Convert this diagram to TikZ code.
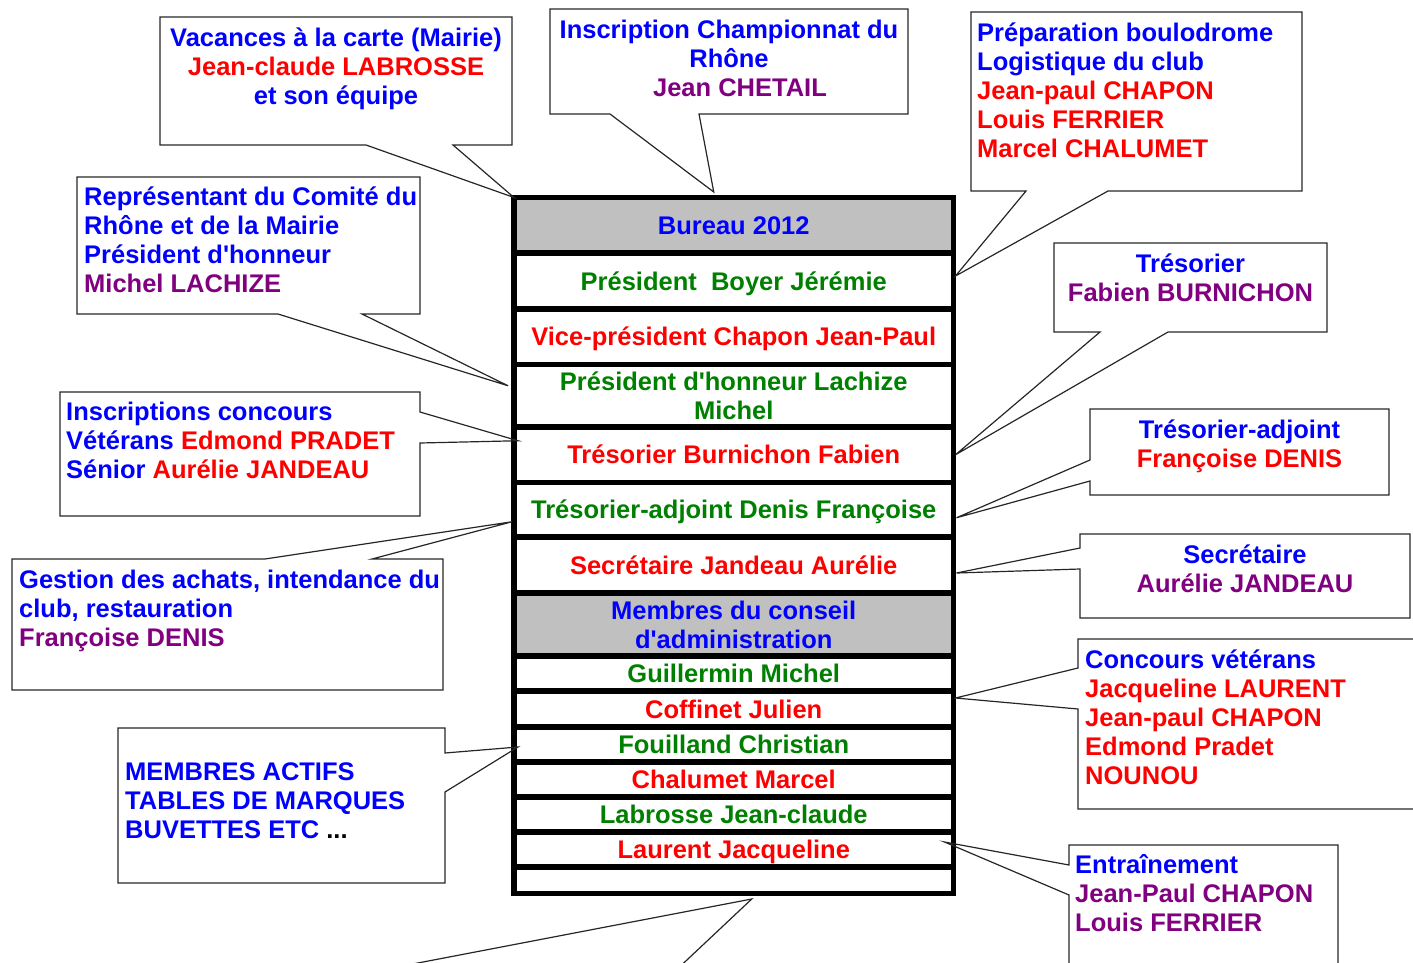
\documentclass[tikz,border=0pt]{standalone}
\usepackage{fontspec}
\setmainfont{Liberation Sans}
\usetikzlibrary{positioning}

\definecolor{cblue}{RGB}{0,0,255}
\definecolor{cred}{RGB}{255,0,0}
\definecolor{cgreen}{RGB}{0,128,0}
\definecolor{cpurple}{RGB}{128,0,128}
\definecolor{cgray}{RGB}{192,192,192}

\tikzset{
 cell/.style={draw=black, line width=5.5pt, fill=white, minimum width=439.5pt,
   inner sep=0pt, outer sep=0pt, align=center,
   font=\bfseries\fontsize{25.5}{29}\selectfont, text height=21pt, text depth=3pt},
 head/.style={cell, fill=cgray},
 twoline/.style={text height={}, text depth={}},
 box/.style={inner sep=0pt, outer sep=0pt, anchor=north west},
 bubble/.style={draw=black!85, line width=1.2pt},
 txt/.style={inner sep=0pt, font=\bfseries\fontsize{25.5}{29}\selectfont},
}

\begin{document}
\begin{tikzpicture}[x=1pt,y=-1pt]
 \useasboundingbox (0,0) rectangle (1413,963);
 \clip (0,0) rectangle (1413,963);

 % the table
 \node[head, text=cblue, minimum height=55.5pt] (r1) at (733.75,225.25) {Bureau 2012};
 \node[cell, text=cgreen, minimum height=56pt, below=0pt of r1] (r2) {Président~~Boyer Jérémie};
 \node[cell, text=cred, minimum height=55.5pt, below=0pt of r2] (r3) {Vice-président Chapon Jean-Paul};
 \node[cell, twoline, text=cgreen, minimum height=62.5pt, below=0pt of r3] (r4) {Président d\textquotesingle honneur Lachize\\Michel};
 \node[cell, text=cred, minimum height=55.5pt, below=0pt of r4] (r5) {Trésorier Burnichon Fabien};
 \node[cell, text=cgreen, minimum height=54.5pt, below=0pt of r5] (r6) {Trésorier-adjoint Denis Françoise};
 \node[cell, text=cred, minimum height=56pt, below=0pt of r6] (r7) {Secrétaire Jandeau Aurélie};
 \node[head, twoline, text=cblue, minimum height=63pt, below=0pt of r7] (r8) {Membres du conseil\\d\textquotesingle administration};
 \node[cell, text=cgreen, minimum height=35pt, below=0pt of r8] (r9) {Guillermin Michel};
 \node[cell, text=cred, minimum height=36pt, below=0pt of r9] (r10) {Coffinet Julien};
 \node[cell, text=cgreen, minimum height=35pt, below=0pt of r10] (r11) {Fouilland Christian};
 \node[cell, text=cred, minimum height=35pt, below=0pt of r11] (r12) {Chalumet Marcel};
 \node[cell, text=cgreen, minimum height=35pt, below=0pt of r12] (r13) {Labrosse Jean-claude};
 \node[cell, text=cred, minimum height=35pt, below=0pt of r13] (r14) {Laurent Jacqueline};
 \node[cell, minimum height=26.5pt, below=0pt of r14] (r15) {};

 % bubble frames
 \node[box, minimum width=352pt, minimum height=128pt] (vac) at (160,17) {};
 \node[box, minimum width=358pt, minimum height=105pt] (champ) at (550,9) {};
 \node[box, minimum width=331pt, minimum height=179pt] (boulo) at (971,12) {};
 \node[box, minimum width=273pt, minimum height=89pt] (treso) at (1054,243) {};
 \node[box, minimum width=299pt, minimum height=86pt] (tradj) at (1090,409) {};
 \node[box, minimum width=330pt, minimum height=84pt] (secr) at (1080,534) {};
 \node[box, minimum width=360pt, minimum height=170pt] (conc) at (1078,639) {};
 \node[box, minimum width=269pt, minimum height=150pt] (entr) at (1069,845) {};
 \node[box, minimum width=343pt, minimum height=137pt] (comite) at (77,177) {};
 \node[box, minimum width=360pt, minimum height=124pt] (inscr) at (60,392) {};
 \node[box, minimum width=431pt, minimum height=131pt] (achats) at (12,559) {};
 \node[box, minimum width=327pt, minimum height=155pt] (actifs) at (118,728) {};
 \node[box, minimum width=600pt, minimum height=100pt] (bas) at (200,990) {};

 % where the pointers touch the table
 \coordinate (pvac) at (r1.north west);
 \coordinate (pchamp) at ([xshift=-20pt,yshift=5.5pt]r1.north);
 \coordinate (pboulo) at ([xshift=2pt,yshift=5pt]r2.east);
 \coordinate (ptreso) at ([xshift=2pt]r5.east);
 \coordinate (ptradj) at ([xshift=3pt,yshift=-8pt]r6.east);
 \coordinate (psecr) at ([xshift=3pt,yshift=-8pt]r7.east);
 \coordinate (pconc) at ([xshift=2pt,yshift=-7pt]r9.south east);
 \coordinate (pentr) at ([xshift=-9pt,yshift=7.5pt]r14.east);
 \coordinate (pcomite) at ([xshift=-6pt,yshift=10pt]r4.west);
 \coordinate (pinscr) at ([xshift=4pt,yshift=14pt]r5.west);
 \coordinate (pachats) at ([xshift=-2pt,yshift=-12pt]r6.west);
 \coordinate (pactifs) at ([xshift=4pt,yshift=-2.5pt]r11.west);
 \coordinate (pbas) at ([xshift=18pt,yshift=-5.5pt]r15.south);

 % pointer on the bottom side
 \draw[bubble] (vac.north west) -- (vac.north east) -- (vac.south east) -- ([xshift=293pt]vac.south west) -- (pvac) -- ([xshift=206pt]vac.south west) -- (vac.south west) -- cycle;
 \draw[bubble] (champ.north west) -- (champ.north east) -- (champ.south east) -- ([xshift=149pt]champ.south west) -- (pchamp) -- ([xshift=60pt]champ.south west) -- (champ.south west) -- cycle;
 \draw[bubble] (boulo.north west) -- (boulo.north east) -- (boulo.south east) -- ([xshift=137pt]boulo.south west) -- (pboulo) -- ([xshift=55pt]boulo.south west) -- (boulo.south west) -- cycle;
 \draw[bubble] (treso.north west) -- (treso.north east) -- (treso.south east) -- ([xshift=114pt]treso.south west) -- (ptreso) -- ([xshift=46pt]treso.south west) -- (treso.south west) -- cycle;
 \draw[bubble] (comite.north west) -- (comite.north east) -- (comite.south east) -- ([xshift=285pt]comite.south west) -- (pcomite) -- ([xshift=201pt]comite.south west) -- (comite.south west) -- cycle;
 % pointer on the left side
 \draw[bubble] (tradj.north west) -- (tradj.north east) -- (tradj.south east) -- (tradj.south west) -- ([yshift=-72pt]tradj.north west) -- (ptradj) -- ([yshift=-51pt]tradj.north west) -- cycle;
 \draw[bubble] (secr.north west) -- (secr.north east) -- (secr.south east) -- (secr.south west) -- ([yshift=-35pt]secr.north west) -- (psecr) -- ([yshift=-14pt]secr.north west) -- cycle;
 \draw[bubble] (conc.north west) -- (conc.north east) -- (conc.south east) -- (conc.south west) -- ([yshift=-70pt]conc.north west) -- (pconc) -- ([yshift=-29pt]conc.north west) -- cycle;
 \draw[bubble] (entr.north west) -- (entr.north east) -- (entr.south east) -- (entr.south west) -- ([yshift=-50pt]entr.north west) -- (pentr) -- ([yshift=-20pt]entr.north west) -- cycle;
 % pointer on the right side
 \draw[bubble] (inscr.north west) -- (inscr.north east) -- ([yshift=-20pt]inscr.north east) -- (pinscr) -- ([yshift=-51pt]inscr.north east) -- (inscr.south east) -- (inscr.south west) -- cycle;
 \draw[bubble] (actifs.north west) -- (actifs.north east) -- ([yshift=-25pt]actifs.north east) -- (pactifs) -- ([yshift=-64pt]actifs.north east) -- (actifs.south east) -- (actifs.south west) -- cycle;
 % pointer on the top side
 \draw[bubble] (achats.north west) -- ([xshift=253pt]achats.north west) -- (pachats) -- ([xshift=360pt]achats.north west) -- (achats.north east) -- (achats.south east) -- (achats.south west) -- cycle;
 \draw[bubble] (bas.north west) -- ([xshift=77pt]bas.north west) -- (pbas) -- ([xshift=455pt]bas.north west) -- (bas.north east) -- (bas.south east) -- (bas.south west) -- cycle;

 % bubble texts
 \node[txt, align=center, anchor=north] (vact) at ([yshift=-8pt]vac.north) {\rule{0pt}{21pt}\textcolor{cblue}{Vacances à la carte (Mairie)}\\\textcolor{cred}{Jean-claude LABROSSE}\\\textcolor{cblue}{et son équipe}};
 \node[txt, align=center, anchor=north] (champt) at ([yshift=-8pt]champ.north) {\rule{0pt}{21pt}\textcolor{cblue}{Inscription Championnat du}\\\textcolor{cblue}{Rhône}\\\hspace*{22pt}\textcolor{cpurple}{Jean CHETAIL}};
 \node[txt, align=left, anchor=north west] (boulot) at ([xshift=6pt,yshift=-8pt]boulo.north west) {\rule{0pt}{21pt}\textcolor{cblue}{Préparation boulodrome}\\\textcolor{cblue}{Logistique du club}\\\textcolor{cred}{Jean-paul CHAPON}\\\textcolor{cred}{Louis FERRIER}\\\textcolor{cred}{Marcel CHALUMET}};
 \node[txt, align=center, anchor=north] (tresot) at ([yshift=-8pt]treso.north) {\rule{0pt}{21pt}\textcolor{cblue}{Trésorier}\\\textcolor{cpurple}{Fabien BURNICHON}};
 \node[txt, align=center, anchor=north] (tradjt) at ([yshift=-8pt]tradj.north) {\rule{0pt}{21pt}\textcolor{cblue}{Trésorier-adjoint}\\\textcolor{cred}{Françoise DENIS}};
 \node[txt, align=center, anchor=north] (secrt) at ([yshift=-8pt]secr.north) {\rule{0pt}{21pt}\textcolor{cblue}{Secrétaire}\\\textcolor{cpurple}{Aurélie JANDEAU}};
 \node[txt, align=left, anchor=north west] (conct) at ([xshift=7pt,yshift=-8pt]conc.north west) {\rule{0pt}{21pt}\textcolor{cblue}{Concours vétérans}\\\textcolor{cred}{Jacqueline LAURENT}\\\textcolor{cred}{Jean-paul CHAPON}\\\textcolor{cred}{Edmond Pradet}\\\textcolor{cred}{NOUNOU}};
 \node[txt, align=left, anchor=north west] (entrt) at ([xshift=6pt,yshift=-7pt]entr.north west) {\rule{0pt}{21pt}\textcolor{cblue}{Entraînement}\\\textcolor{cpurple}{Jean-Paul CHAPON}\\\textcolor{cpurple}{Louis FERRIER}};
 \node[txt, align=left, anchor=north west] (comitet) at ([xshift=7pt,yshift=-7pt]comite.north west) {\rule{0pt}{21pt}\textcolor{cblue}{Représentant du Comité du}\\\textcolor{cblue}{Rhône et de la Mairie}\\\textcolor{cblue}{Président d\textquotesingle honneur}\\\textcolor{cpurple}{Michel LACHIZE}};
 \node[txt, align=left, anchor=north west] (inscrt) at ([xshift=6pt,yshift=-7pt]inscr.north west) {\rule{0pt}{21pt}\textcolor{cblue}{Inscriptions concours}\\\textcolor{cblue}{Vétérans} \textcolor{cred}{Edmond PRADET}\\\textcolor{cblue}{Sénior} \textcolor{cred}{Aurélie JANDEAU}};
 \node[txt, align=left, anchor=north west] (achatst) at ([xshift=7pt,yshift=-8pt]achats.north west) {\rule{0pt}{21pt}\textcolor{cblue}{Gestion des achats, intendance du}\\\textcolor{cblue}{club, restauration}\\\textcolor{cpurple}{Françoise DENIS}};
 \node[txt, align=left, anchor=north west] (actifst) at ([xshift=7pt,yshift=-31pt]actifs.north west) {\rule{0pt}{21pt}\textcolor{cblue}{MEMBRES ACTIFS}\\\textcolor{cblue}{TABLES DE MARQUES}\\\textcolor{cblue}{BUVETTES ETC} ...};
\end{tikzpicture}
\end{document}
